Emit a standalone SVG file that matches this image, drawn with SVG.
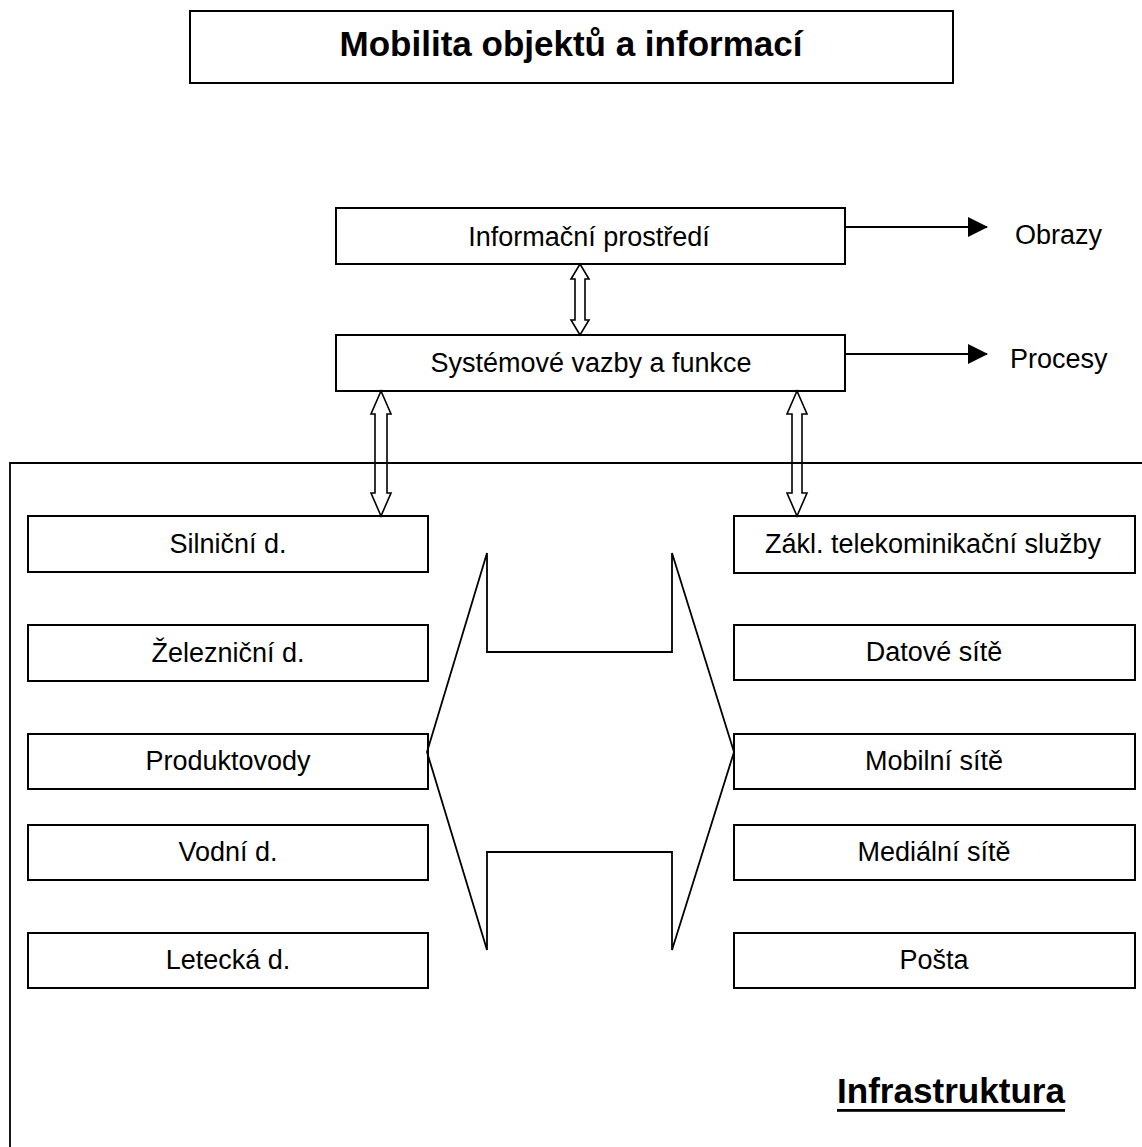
<svg xmlns="http://www.w3.org/2000/svg" width="1142" height="1147" viewBox="0 0 1142 1147">
  <style>
    .box { fill: #ffffff; stroke: #000000; stroke-width: 2; }
    .lbl { font-family: "Liberation Sans", Arial, sans-serif; font-size: 27px; fill: #000000; text-anchor: middle; }
    .side { font-family: "Liberation Sans", Arial, sans-serif; font-size: 27px; fill: #000000; }
    .ttl { font-family: "Liberation Sans", Arial, sans-serif; font-weight: bold; fill: #000000; }
    .line { fill: none; stroke: #000000; stroke-width: 1.8; }
    .dbl { fill: none; stroke: #000000; stroke-width: 1.6; stroke-linejoin: miter; }
  </style>
  <defs>
    <marker id="head" viewBox="0 0 20 20" refX="19" refY="10" markerWidth="20" markerHeight="20" markerUnits="userSpaceOnUse" orient="auto">
      <path d="M0,0 L20,10 L0,20 Z" fill="#000000"/>
    </marker>
  </defs>

  <rect width="1142" height="1147" fill="#ffffff"/>

  <!-- title -->
  <g id="title">
    <rect class="box" x="190" y="11" width="763" height="72"/>
    <text class="ttl" x="571" y="56" font-size="35" text-anchor="middle">Mobilita objektů a informací</text>
  </g>

  <!-- infrastructure frame (open to the right and bottom) -->
  <g id="infrastruktura">
    <path class="line" d="M10,1147 L10,463 L1142,463"/>
    <text class="ttl" x="837" y="1103" font-size="35" textLength="228" lengthAdjust="spacingAndGlyphs">Infrastruktura</text>
    <rect x="837" y="1109" width="228" height="2.8" fill="#000000"/>
  </g>

  <!-- upper layers -->
  <g id="informacni-prostredi">
    <rect class="box" x="336" y="208" width="509" height="56"/>
    <text class="lbl" x="589" y="246">Informační prostředí</text>
  </g>
  <g id="systemove-vazby">
    <rect class="box" x="336" y="335" width="509" height="56"/>
    <text class="lbl" x="591" y="372">Systémové vazby a funkce</text>
  </g>
  <g id="obrazy">
    <text class="side" x="1015" y="244">Obrazy</text>
  </g>
  <g id="procesy">
    <text class="side" x="1010" y="368">Procesy</text>
  </g>

  <!-- transport (left column) -->
  <g id="silnicni">
    <rect class="box" x="28" y="516" width="400" height="56"/>
    <text class="lbl" x="228" y="553">Silniční d.</text>
  </g>
  <g id="zeleznicni">
    <rect class="box" x="28" y="625" width="400" height="56"/>
    <text class="lbl" x="228" y="662">Železniční d.</text>
  </g>
  <g id="produktovody">
    <rect class="box" x="28" y="734" width="400" height="55"/>
    <text class="lbl" x="228" y="770">Produktovody</text>
  </g>
  <g id="vodni">
    <rect class="box" x="28" y="825" width="400" height="55"/>
    <text class="lbl" x="228" y="861">Vodní d.</text>
  </g>
  <g id="letecka">
    <rect class="box" x="28" y="933" width="400" height="55"/>
    <text class="lbl" x="228" y="969">Letecká d.</text>
  </g>

  <!-- telecommunications (right column) -->
  <g id="telekomunikacni-sluzby">
    <rect class="box" x="734" y="516" width="401" height="57"/>
    <text class="lbl" x="933" y="553">Zákl. telekominikační služby</text>
  </g>
  <g id="datove-site">
    <rect class="box" x="734" y="625" width="401" height="55"/>
    <text class="lbl" x="934" y="661">Datové sítě</text>
  </g>
  <g id="mobilni-site">
    <rect class="box" x="734" y="734" width="401" height="55"/>
    <text class="lbl" x="934" y="770">Mobilní sítě</text>
  </g>
  <g id="medialni-site">
    <rect class="box" x="734" y="825" width="401" height="55"/>
    <text class="lbl" x="934" y="861">Mediální sítě</text>
  </g>
  <g id="posta">
    <rect class="box" x="734" y="933" width="401" height="55"/>
    <text class="lbl" x="934" y="969">Pošta</text>
  </g>

  <!-- connectors -->
  <g id="connectors">
    <line class="line" x1="845" y1="227" x2="987" y2="227" marker-end="url(#head)"/>
    <line class="line" x1="845" y1="354" x2="987" y2="354" marker-end="url(#head)"/>
    <!-- hollow double arrows -->
    <polygon class="dbl" points="580,264 589,279 585,279 585,320 589,320 580,335 571,320 575,320 575,279 571,279"/>
    <polygon class="dbl" points="381,391 391,414 387,414 387,493 391,493 381,516 371,493 375,493 375,414 371,414"/>
    <polygon class="dbl" points="797,391 807,414 802,414 802,493 807,493 797,516 787,493 792,493 792,414 787,414"/>
    <!-- broad two-way link between the columns -->
    <polygon class="line" points="427,752 487,553 487,652 672,652 672,553 734,752 672,950 672,852 487,852 487,950"/>
  </g>
</svg>
